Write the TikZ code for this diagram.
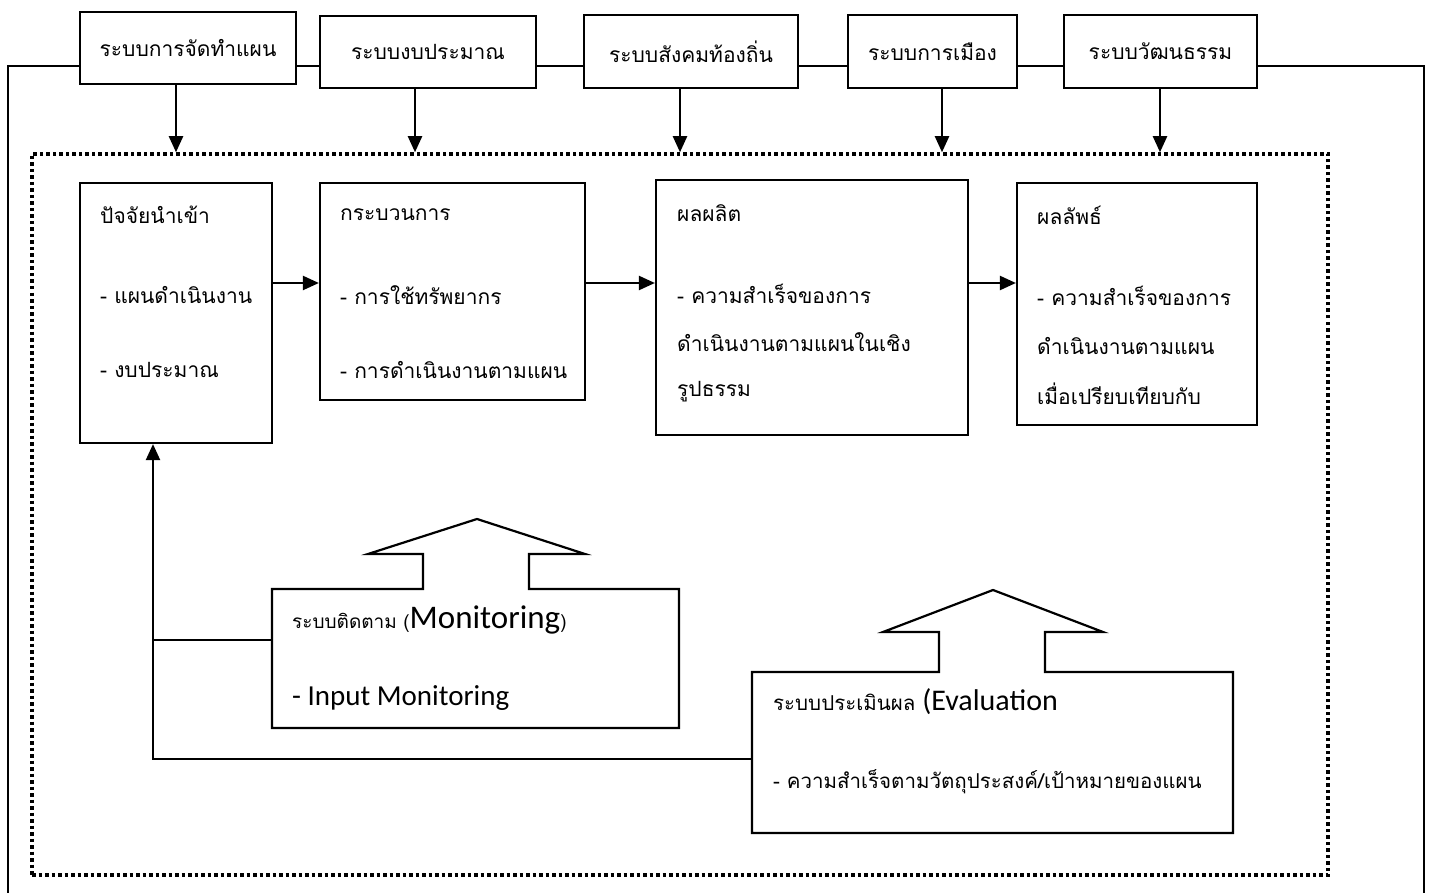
\documentclass[tikz,border=0pt]{standalone}
\usepackage{fontspec}
\setmainfont{Carlito}
\newfontfamily\thaifont[Script=Thai]{Loma}
\usetikzlibrary{arrows.meta}
\begin{document}
\begin{tikzpicture}[x=1pt,y=-1pt,
  ln/.style={line width=2.2pt, line join=miter},
  boxn/.style={draw, line width=2.2pt, inner sep=0pt},
  topbox/.style={boxn, font=\thaifont\fontsize{21}{25}\selectfont},
  txt/.style={anchor=west, inner sep=0pt, font=\thaifont\fontsize{21}{25}\selectfont},
  evtxt/.style={anchor=west, inner sep=0pt, font=\thaifont\fontsize{20.5}{25}\selectfont},
  arr/.style={ln, -{Triangle[length=16pt,width=14pt]}},
  dotline/.style={draw, line width=3.5pt, dash pattern=on 3.5pt off 3pt}]
\useasboundingbox (0,0) rectangle (1432,893);

% reference coordinates
\coordinate (ly) at (0,66);
\coordinate (my) at (0,283);
\coordinate (fbx) at (153,0);
\coordinate (olb) at (8,893);
\coordinate (orb) at (1424,893);

% top boxes
\node[topbox, minimum width=216pt, minimum height=72pt] (t1) at (188,48) {ระบบการจัดทำแผน};
\node[topbox, minimum width=216pt, minimum height=72pt] (t2) at (428,52) {ระบบงบประมาณ};
\node[topbox, minimum width=214pt, minimum height=73pt] (t3) at (691,51.5) {ระบบสังคมท้องถิ่น};
\node[topbox, minimum width=169pt, minimum height=73pt] (t4) at (932.5,51.5) {ระบบการเมือง};
\node[topbox, minimum width=193pt, minimum height=73pt] (t5) at (1160.5,51.5) {ระบบวัฒนธรรม};

% outer frame
\draw[ln] (olb) |- (t1.west|-ly);
\draw[ln] (t1.east|-ly) -- (t2.west|-ly);
\draw[ln] (t2.east|-ly) -- (t3.west|-ly);
\draw[ln] (t3.east|-ly) -- (t4.west|-ly);
\draw[ln] (t4.east|-ly) -- (t5.west|-ly);
\draw[ln] (t5.east|-ly) -| (orb);

% dotted frame
\node[dotline, minimum width=1296pt, minimum height=721pt, inner sep=0pt] (dot) at (680,514.5) {};

% arrows from top boxes
\coordinate (x1) at (176,0);
\coordinate (x2) at (415,0);
\coordinate (x3) at (680,0);
\coordinate (x4) at (942,0);
\coordinate (x5) at (1160,0);
\draw[arr] (t1.south-|x1) -- (dot.north-|x1);
\draw[arr] (t2.south-|x2) -- (dot.north-|x2);
\draw[arr] (t3.south-|x3) -- (dot.north-|x3);
\draw[arr] (t4.south-|x4) -- (dot.north-|x4);
\draw[arr] (t5.south-|x5) -- (dot.north-|x5);

% middle boxes
\node[boxn, minimum width=192pt, minimum height=260pt] (A) at (176,313) {};
\node[boxn, minimum width=265pt, minimum height=217pt] (B) at (452.5,291.5) {};
\node[boxn, minimum width=312pt, minimum height=255pt] (C) at (812,307.5) {};
\node[boxn, minimum width=240pt, minimum height=242pt] (D) at (1137,304) {};

\node[txt] (a1) at (100,215) {ปัจจัยนำเข้า};
\node[txt] (a2) at (100,295) {- แผนดำเนินงาน};
\node[txt] (a3) at (100,370) {- งบประมาณ};

\node[txt] (b1) at (340,215) {กระบวนการ};
\node[txt] (b2) at (340,295) {- การใช้ทรัพยากร};
\node[txt] (b3) at (340,370) {- การดำเนินงานตามแผน};

\node[txt] (c1) at (677,213) {ผลผลิต};
\node[txt] (c2) at (677,294) {- ความสำเร็จของการ};
\node[txt] (c3) at (677,342) {ดำเนินงานตามแผนในเชิง};
\node[txt] (c4) at (677,392) {รูปธรรม};

\node[txt] (d1) at (1037,215) {ผลลัพธ์};
\node[txt] (d2) at (1037,296) {- ความสำเร็จของการ};
\node[txt] (d3) at (1037,346) {ดำเนินงานตามแผน};
\node[txt] (d4) at (1037,394) {เมื่อเปรียบเทียบกับ};

\draw[arr] (A.east|-my) -- (B.west|-my);
\draw[arr] (B.east|-my) -- (C.west|-my);
\draw[arr] (C.east|-my) -- (D.west|-my);

% monitoring callout
\node[inner sep=0pt, minimum width=407pt, minimum height=139pt] (M) at (475.5,658.5) {};
\draw[ln] (272,589) -- (423,589) -- (423,554) -- (368,554) -- (477,519) -- (585,554)
  -- (529,554) -- (529,589) -- (679,589) -- (679,728) -- (272,728) -- cycle;
\node[anchor=west, inner sep=0pt, font=\thaifont\fontsize{19}{23}\selectfont] (m1) at (292,620) {ระบบติดตาม ({\fontspec{Carlito}\fontsize{33}{36}\selectfont Monitoring})};
\node[anchor=west, inner sep=0pt, font=\fontsize{29}{33}\selectfont] (m2) at (292,698) {- Input Monitoring};

% evaluation callout
\node[inner sep=0pt, minimum width=481pt, minimum height=161pt] (E) at (992.5,752.5) {};
\draw[ln] (752,672) -- (939,672) -- (939,632) -- (883,632) -- (993,590) -- (1103,632)
  -- (1045,632) -- (1045,672) -- (1233,672) -- (1233,833) -- (752,833) -- cycle;
\node[evtxt] (e1) at (773,702) {ระบบประเมินผล {\fontspec{Carlito}\fontsize{30}{34}\selectfont (Evaluation}};
\node[evtxt] (e2) at (773,782) {- ความสำเร็จตามวัตถุประสงค์/เป้าหมายของแผน};

% feedback lines
\coordinate (my2) at (0,640);
\coordinate (ey) at (0,759);
\draw[ln] (M.west|-my2) -- (fbx|-my2);
\draw[arr] (E.west|-ey) -| (A.south-|fbx);
\end{tikzpicture}
\end{document}
